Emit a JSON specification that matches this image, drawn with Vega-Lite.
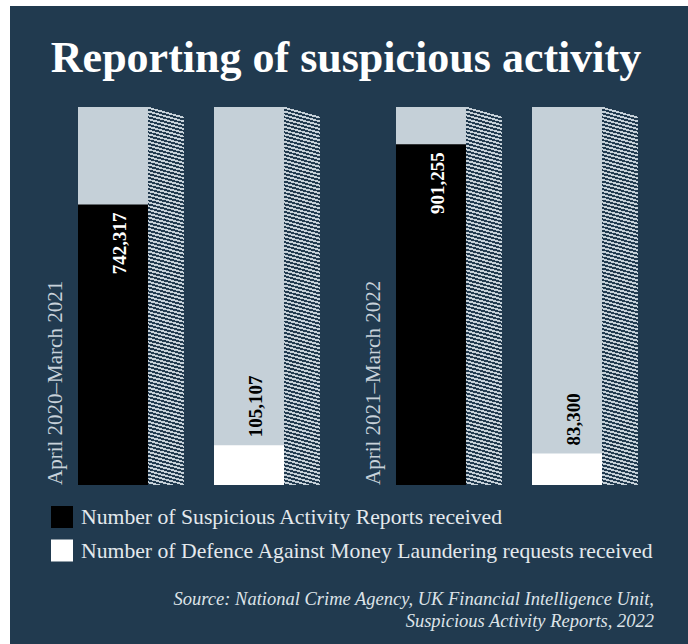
{
  "$schema": "https://vega.github.io/schema/vega-lite/v6.json",
  "width": 678,
  "height": 638,
  "autosize": {"type": "none"},
  "padding": {"left": 10, "top": 6, "right": 0, "bottom": 0},
  "background": "#ffffff",
  "title": {
    "text": "Reporting of suspicious activity",
    "font": "Liberation Serif",
    "fontSize": 44,
    "fontWeight": "bold",
    "color": "#ffffff",
    "anchor": "middle",
    "frame": "group",
    "baseline": "alphabetic",
    "offset": -110,
    "dx": -3
  },
  "config": {
    "view": {"fill": "#213a4f", "stroke": null},
    "font": "Liberation Serif"
  },
  "data": {
    "values": [
      {"period": "April 2020–March 2021", "measure": "Number of Suspicious Activity Reports received", "value": 742317},
      {"period": "April 2020–March 2021", "measure": "Number of Defence Against Money Laundering requests received", "value": 105107},
      {"period": "April 2021–March 2022", "measure": "Number of Suspicious Activity Reports received", "value": 901255},
      {"period": "April 2021–March 2022", "measure": "Number of Defence Against Money Laundering requests received", "value": 83300}
    ]
  },
  "resolve": {"scale": {"xOffset": "independent"}},
  "layer": [
    {
      "layer": [
        {
          "mark": {"type": "bar", "color": "#c5d0d8"},
          "encoding": {
            "x": {
              "field": "period",
              "type": "nominal",
              "scale": {"range": [68, 592], "paddingInner": 0.3522, "paddingOuter": 0},
              "axis": null
            },
            "xOffset": {
              "field": "measure",
              "type": "nominal",
              "scale": {
                "domain": ["Number of Suspicious Activity Reports received", "Number of Defence Against Money Laundering requests received"],
                "paddingInner": 0.4853,
                "paddingOuter": 0
              }
            },
            "y": {
              "datum": 1000000,
              "type": "quantitative",
              "scale": {"domain": [0, 1000000], "range": [479, 101], "nice": false, "zero": true},
              "axis": null
            },
            "y2": {"datum": 0}
          }
        },
        {
          "mark": {"type": "bar"},
          "encoding": {
            "x": {"field": "period", "type": "nominal", "axis": null},
            "xOffset": {"field": "measure", "type": "nominal"},
            "y": {"field": "value", "type": "quantitative", "axis": null},
            "color": {
              "field": "measure",
              "type": "nominal",
              "scale": {
                "domain": ["Number of Suspicious Activity Reports received", "Number of Defence Against Money Laundering requests received"],
                "range": ["#000000", "#ffffff"]
              },
              "legend": {
                "orient": "none",
                "legendX": 41,
                "legendY": 500,
                "direction": "vertical",
                "padding": 0,
                "symbolType": "square",
                "symbolSize": 484,
                "symbolStrokeWidth": 0,
                "symbolOpacity": 1,
                "labelFont": "Liberation Serif",
                "labelFontSize": 21.7,
                "labelColor": "#e4e9ed",
                "labelLimit": 700,
                "labelOffset": 8,
                "rowPadding": 10.5,
                "title": ["Source: National Crime Agency, UK Financial Intelligence Unit,", "Suspicious Activity Reports, 2022"],
                "titleOrient": "bottom",
                "titleAnchor": "end",
                "titleAlign": "right",
                "titleBaseline": "top",
                "titlePadding": 28,
                "titleFont": "Liberation Serif",
                "titleFontStyle": "italic",
                "titleFontWeight": "normal",
                "titleFontSize": 18.5,
                "titleLineHeight": 22,
                "titleLimit": 700,
                "titleColor": "#dde3e8"
              }
            }
          }
        },
        {
          "transform": [{"filter": {"field": "measure", "equal": "Number of Suspicious Activity Reports received"}}],
          "mark": {"type": "text", "angle": 270, "align": "right", "baseline": "middle", "dx": -8, "dy": 7, "font": "Liberation Serif", "fontWeight": "bold", "fontSize": 19, "color": "#ffffff"},
          "encoding": {
            "x": {"field": "period", "type": "nominal", "axis": null},
            "xOffset": {"field": "measure", "type": "nominal"},
            "y": {"field": "value", "type": "quantitative", "axis": null},
            "text": {"field": "value", "type": "quantitative", "format": ","}
          }
        },
        {
          "transform": [{"filter": {"field": "measure", "equal": "Number of Defence Against Money Laundering requests received"}}],
          "mark": {"type": "text", "angle": 270, "align": "left", "baseline": "middle", "dx": 8, "dy": 7, "font": "Liberation Serif", "fontWeight": "bold", "fontSize": 19, "color": "#000000"},
          "encoding": {
            "x": {"field": "period", "type": "nominal", "axis": null},
            "xOffset": {"field": "measure", "type": "nominal"},
            "y": {"field": "value", "type": "quantitative", "axis": null},
            "text": {"field": "value", "type": "quantitative", "format": ","}
          }
        },
        {
          "transform": [{"filter": {"field": "measure", "equal": "Number of Suspicious Activity Reports received"}}],
          "mark": {"type": "text", "angle": 270, "align": "left", "baseline": "alphabetic", "dy": -16, "font": "Liberation Serif", "fontSize": 21, "color": "#c8d2da"},
          "encoding": {
            "x": {"field": "period", "type": "nominal", "bandPosition": 0, "axis": null},
            "y": {"datum": 0, "type": "quantitative", "axis": null},
            "text": {"field": "period", "type": "nominal"}
          }
        }
      ]
    },
    {
      "mark": {
        "type": "bar",
        "fill": {
          "gradient": "linear",
          "x1": 0.02646, "y1": 0, "x2": 0, "y2": 1,
          "stops": [
            {"offset":0,"color":"#213a4f"},
            {"offset":0,"color":"#c5d0d8"},{"offset":0.005,"color":"#c5d0d8"},{"offset":0.005,"color":"#213a4f"},{"offset":0.01,"color":"#213a4f"},
            {"offset":0.01,"color":"#c5d0d8"},{"offset":0.015,"color":"#c5d0d8"},{"offset":0.015,"color":"#213a4f"},{"offset":0.02,"color":"#213a4f"},
            {"offset":0.02,"color":"#c5d0d8"},{"offset":0.025,"color":"#c5d0d8"},{"offset":0.025,"color":"#213a4f"},{"offset":0.03,"color":"#213a4f"},
            {"offset":0.03,"color":"#c5d0d8"},{"offset":0.035,"color":"#c5d0d8"},{"offset":0.035,"color":"#213a4f"},{"offset":0.04,"color":"#213a4f"},
            {"offset":0.04,"color":"#c5d0d8"},{"offset":0.045,"color":"#c5d0d8"},{"offset":0.045,"color":"#213a4f"},{"offset":0.05,"color":"#213a4f"},
            {"offset":0.05,"color":"#c5d0d8"},{"offset":0.055,"color":"#c5d0d8"},{"offset":0.055,"color":"#213a4f"},{"offset":0.06,"color":"#213a4f"},
            {"offset":0.06,"color":"#c5d0d8"},{"offset":0.065,"color":"#c5d0d8"},{"offset":0.065,"color":"#213a4f"},{"offset":0.07,"color":"#213a4f"},
            {"offset":0.07,"color":"#c5d0d8"},{"offset":0.075,"color":"#c5d0d8"},{"offset":0.075,"color":"#213a4f"},{"offset":0.08,"color":"#213a4f"},
            {"offset":0.08,"color":"#c5d0d8"},{"offset":0.085,"color":"#c5d0d8"},{"offset":0.085,"color":"#213a4f"},{"offset":0.09,"color":"#213a4f"},
            {"offset":0.09,"color":"#c5d0d8"},{"offset":0.095,"color":"#c5d0d8"},{"offset":0.095,"color":"#213a4f"},{"offset":0.10,"color":"#213a4f"},
            {"offset":0.10,"color":"#c5d0d8"},{"offset":0.105,"color":"#c5d0d8"},{"offset":0.105,"color":"#213a4f"},{"offset":0.11,"color":"#213a4f"},
            {"offset":0.11,"color":"#c5d0d8"},{"offset":0.115,"color":"#c5d0d8"},{"offset":0.115,"color":"#213a4f"},{"offset":0.12,"color":"#213a4f"},
            {"offset":0.12,"color":"#c5d0d8"},{"offset":0.125,"color":"#c5d0d8"},{"offset":0.125,"color":"#213a4f"},{"offset":0.13,"color":"#213a4f"},
            {"offset":0.13,"color":"#c5d0d8"},{"offset":0.135,"color":"#c5d0d8"},{"offset":0.135,"color":"#213a4f"},{"offset":0.14,"color":"#213a4f"},
            {"offset":0.14,"color":"#c5d0d8"},{"offset":0.145,"color":"#c5d0d8"},{"offset":0.145,"color":"#213a4f"},{"offset":0.15,"color":"#213a4f"},
            {"offset":0.15,"color":"#c5d0d8"},{"offset":0.155,"color":"#c5d0d8"},{"offset":0.155,"color":"#213a4f"},{"offset":0.16,"color":"#213a4f"},
            {"offset":0.16,"color":"#c5d0d8"},{"offset":0.165,"color":"#c5d0d8"},{"offset":0.165,"color":"#213a4f"},{"offset":0.17,"color":"#213a4f"},
            {"offset":0.17,"color":"#c5d0d8"},{"offset":0.175,"color":"#c5d0d8"},{"offset":0.175,"color":"#213a4f"},{"offset":0.18,"color":"#213a4f"},
            {"offset":0.18,"color":"#c5d0d8"},{"offset":0.185,"color":"#c5d0d8"},{"offset":0.185,"color":"#213a4f"},{"offset":0.19,"color":"#213a4f"},
            {"offset":0.19,"color":"#c5d0d8"},{"offset":0.195,"color":"#c5d0d8"},{"offset":0.195,"color":"#213a4f"},{"offset":0.20,"color":"#213a4f"},
            {"offset":0.20,"color":"#c5d0d8"},{"offset":0.205,"color":"#c5d0d8"},{"offset":0.205,"color":"#213a4f"},{"offset":0.21,"color":"#213a4f"},
            {"offset":0.21,"color":"#c5d0d8"},{"offset":0.215,"color":"#c5d0d8"},{"offset":0.215,"color":"#213a4f"},{"offset":0.22,"color":"#213a4f"},
            {"offset":0.22,"color":"#c5d0d8"},{"offset":0.225,"color":"#c5d0d8"},{"offset":0.225,"color":"#213a4f"},{"offset":0.23,"color":"#213a4f"},
            {"offset":0.23,"color":"#c5d0d8"},{"offset":0.235,"color":"#c5d0d8"},{"offset":0.235,"color":"#213a4f"},{"offset":0.24,"color":"#213a4f"},
            {"offset":0.24,"color":"#c5d0d8"},{"offset":0.245,"color":"#c5d0d8"},{"offset":0.245,"color":"#213a4f"},{"offset":0.25,"color":"#213a4f"},
            {"offset":0.25,"color":"#c5d0d8"},{"offset":0.255,"color":"#c5d0d8"},{"offset":0.255,"color":"#213a4f"},{"offset":0.26,"color":"#213a4f"},
            {"offset":0.26,"color":"#c5d0d8"},{"offset":0.265,"color":"#c5d0d8"},{"offset":0.265,"color":"#213a4f"},{"offset":0.27,"color":"#213a4f"},
            {"offset":0.27,"color":"#c5d0d8"},{"offset":0.275,"color":"#c5d0d8"},{"offset":0.275,"color":"#213a4f"},{"offset":0.28,"color":"#213a4f"},
            {"offset":0.28,"color":"#c5d0d8"},{"offset":0.285,"color":"#c5d0d8"},{"offset":0.285,"color":"#213a4f"},{"offset":0.29,"color":"#213a4f"},
            {"offset":0.29,"color":"#c5d0d8"},{"offset":0.295,"color":"#c5d0d8"},{"offset":0.295,"color":"#213a4f"},{"offset":0.30,"color":"#213a4f"},
            {"offset":0.30,"color":"#c5d0d8"},{"offset":0.305,"color":"#c5d0d8"},{"offset":0.305,"color":"#213a4f"},{"offset":0.31,"color":"#213a4f"},
            {"offset":0.31,"color":"#c5d0d8"},{"offset":0.315,"color":"#c5d0d8"},{"offset":0.315,"color":"#213a4f"},{"offset":0.32,"color":"#213a4f"},
            {"offset":0.32,"color":"#c5d0d8"},{"offset":0.325,"color":"#c5d0d8"},{"offset":0.325,"color":"#213a4f"},{"offset":0.33,"color":"#213a4f"},
            {"offset":0.33,"color":"#c5d0d8"},{"offset":0.335,"color":"#c5d0d8"},{"offset":0.335,"color":"#213a4f"},{"offset":0.34,"color":"#213a4f"},
            {"offset":0.34,"color":"#c5d0d8"},{"offset":0.345,"color":"#c5d0d8"},{"offset":0.345,"color":"#213a4f"},{"offset":0.35,"color":"#213a4f"},
            {"offset":0.35,"color":"#c5d0d8"},{"offset":0.355,"color":"#c5d0d8"},{"offset":0.355,"color":"#213a4f"},{"offset":0.36,"color":"#213a4f"},
            {"offset":0.36,"color":"#c5d0d8"},{"offset":0.365,"color":"#c5d0d8"},{"offset":0.365,"color":"#213a4f"},{"offset":0.37,"color":"#213a4f"},
            {"offset":0.37,"color":"#c5d0d8"},{"offset":0.375,"color":"#c5d0d8"},{"offset":0.375,"color":"#213a4f"},{"offset":0.38,"color":"#213a4f"},
            {"offset":0.38,"color":"#c5d0d8"},{"offset":0.385,"color":"#c5d0d8"},{"offset":0.385,"color":"#213a4f"},{"offset":0.39,"color":"#213a4f"},
            {"offset":0.39,"color":"#c5d0d8"},{"offset":0.395,"color":"#c5d0d8"},{"offset":0.395,"color":"#213a4f"},{"offset":0.40,"color":"#213a4f"},
            {"offset":0.40,"color":"#c5d0d8"},{"offset":0.405,"color":"#c5d0d8"},{"offset":0.405,"color":"#213a4f"},{"offset":0.41,"color":"#213a4f"},
            {"offset":0.41,"color":"#c5d0d8"},{"offset":0.415,"color":"#c5d0d8"},{"offset":0.415,"color":"#213a4f"},{"offset":0.42,"color":"#213a4f"},
            {"offset":0.42,"color":"#c5d0d8"},{"offset":0.425,"color":"#c5d0d8"},{"offset":0.425,"color":"#213a4f"},{"offset":0.43,"color":"#213a4f"},
            {"offset":0.43,"color":"#c5d0d8"},{"offset":0.435,"color":"#c5d0d8"},{"offset":0.435,"color":"#213a4f"},{"offset":0.44,"color":"#213a4f"},
            {"offset":0.44,"color":"#c5d0d8"},{"offset":0.445,"color":"#c5d0d8"},{"offset":0.445,"color":"#213a4f"},{"offset":0.45,"color":"#213a4f"},
            {"offset":0.45,"color":"#c5d0d8"},{"offset":0.455,"color":"#c5d0d8"},{"offset":0.455,"color":"#213a4f"},{"offset":0.46,"color":"#213a4f"},
            {"offset":0.46,"color":"#c5d0d8"},{"offset":0.465,"color":"#c5d0d8"},{"offset":0.465,"color":"#213a4f"},{"offset":0.47,"color":"#213a4f"},
            {"offset":0.47,"color":"#c5d0d8"},{"offset":0.475,"color":"#c5d0d8"},{"offset":0.475,"color":"#213a4f"},{"offset":0.48,"color":"#213a4f"},
            {"offset":0.48,"color":"#c5d0d8"},{"offset":0.485,"color":"#c5d0d8"},{"offset":0.485,"color":"#213a4f"},{"offset":0.49,"color":"#213a4f"},
            {"offset":0.49,"color":"#c5d0d8"},{"offset":0.495,"color":"#c5d0d8"},{"offset":0.495,"color":"#213a4f"},{"offset":0.50,"color":"#213a4f"},
            {"offset":0.50,"color":"#c5d0d8"},{"offset":0.505,"color":"#c5d0d8"},{"offset":0.505,"color":"#213a4f"},{"offset":0.51,"color":"#213a4f"},
            {"offset":0.51,"color":"#c5d0d8"},{"offset":0.515,"color":"#c5d0d8"},{"offset":0.515,"color":"#213a4f"},{"offset":0.52,"color":"#213a4f"},
            {"offset":0.52,"color":"#c5d0d8"},{"offset":0.525,"color":"#c5d0d8"},{"offset":0.525,"color":"#213a4f"},{"offset":0.53,"color":"#213a4f"},
            {"offset":0.53,"color":"#c5d0d8"},{"offset":0.535,"color":"#c5d0d8"},{"offset":0.535,"color":"#213a4f"},{"offset":0.54,"color":"#213a4f"},
            {"offset":0.54,"color":"#c5d0d8"},{"offset":0.545,"color":"#c5d0d8"},{"offset":0.545,"color":"#213a4f"},{"offset":0.55,"color":"#213a4f"},
            {"offset":0.55,"color":"#c5d0d8"},{"offset":0.555,"color":"#c5d0d8"},{"offset":0.555,"color":"#213a4f"},{"offset":0.56,"color":"#213a4f"},
            {"offset":0.56,"color":"#c5d0d8"},{"offset":0.565,"color":"#c5d0d8"},{"offset":0.565,"color":"#213a4f"},{"offset":0.57,"color":"#213a4f"},
            {"offset":0.57,"color":"#c5d0d8"},{"offset":0.575,"color":"#c5d0d8"},{"offset":0.575,"color":"#213a4f"},{"offset":0.58,"color":"#213a4f"},
            {"offset":0.58,"color":"#c5d0d8"},{"offset":0.585,"color":"#c5d0d8"},{"offset":0.585,"color":"#213a4f"},{"offset":0.59,"color":"#213a4f"},
            {"offset":0.59,"color":"#c5d0d8"},{"offset":0.595,"color":"#c5d0d8"},{"offset":0.595,"color":"#213a4f"},{"offset":0.60,"color":"#213a4f"},
            {"offset":0.60,"color":"#c5d0d8"},{"offset":0.605,"color":"#c5d0d8"},{"offset":0.605,"color":"#213a4f"},{"offset":0.61,"color":"#213a4f"},
            {"offset":0.61,"color":"#c5d0d8"},{"offset":0.615,"color":"#c5d0d8"},{"offset":0.615,"color":"#213a4f"},{"offset":0.62,"color":"#213a4f"},
            {"offset":0.62,"color":"#c5d0d8"},{"offset":0.625,"color":"#c5d0d8"},{"offset":0.625,"color":"#213a4f"},{"offset":0.63,"color":"#213a4f"},
            {"offset":0.63,"color":"#c5d0d8"},{"offset":0.635,"color":"#c5d0d8"},{"offset":0.635,"color":"#213a4f"},{"offset":0.64,"color":"#213a4f"},
            {"offset":0.64,"color":"#c5d0d8"},{"offset":0.645,"color":"#c5d0d8"},{"offset":0.645,"color":"#213a4f"},{"offset":0.65,"color":"#213a4f"},
            {"offset":0.65,"color":"#c5d0d8"},{"offset":0.655,"color":"#c5d0d8"},{"offset":0.655,"color":"#213a4f"},{"offset":0.66,"color":"#213a4f"},
            {"offset":0.66,"color":"#c5d0d8"},{"offset":0.665,"color":"#c5d0d8"},{"offset":0.665,"color":"#213a4f"},{"offset":0.67,"color":"#213a4f"},
            {"offset":0.67,"color":"#c5d0d8"},{"offset":0.675,"color":"#c5d0d8"},{"offset":0.675,"color":"#213a4f"},{"offset":0.68,"color":"#213a4f"},
            {"offset":0.68,"color":"#c5d0d8"},{"offset":0.685,"color":"#c5d0d8"},{"offset":0.685,"color":"#213a4f"},{"offset":0.69,"color":"#213a4f"},
            {"offset":0.69,"color":"#c5d0d8"},{"offset":0.695,"color":"#c5d0d8"},{"offset":0.695,"color":"#213a4f"},{"offset":0.70,"color":"#213a4f"},
            {"offset":0.70,"color":"#c5d0d8"},{"offset":0.705,"color":"#c5d0d8"},{"offset":0.705,"color":"#213a4f"},{"offset":0.71,"color":"#213a4f"},
            {"offset":0.71,"color":"#c5d0d8"},{"offset":0.715,"color":"#c5d0d8"},{"offset":0.715,"color":"#213a4f"},{"offset":0.72,"color":"#213a4f"},
            {"offset":0.72,"color":"#c5d0d8"},{"offset":0.725,"color":"#c5d0d8"},{"offset":0.725,"color":"#213a4f"},{"offset":0.73,"color":"#213a4f"},
            {"offset":0.73,"color":"#c5d0d8"},{"offset":0.735,"color":"#c5d0d8"},{"offset":0.735,"color":"#213a4f"},{"offset":0.74,"color":"#213a4f"},
            {"offset":0.74,"color":"#c5d0d8"},{"offset":0.745,"color":"#c5d0d8"},{"offset":0.745,"color":"#213a4f"},{"offset":0.75,"color":"#213a4f"},
            {"offset":0.75,"color":"#c5d0d8"},{"offset":0.755,"color":"#c5d0d8"},{"offset":0.755,"color":"#213a4f"},{"offset":0.76,"color":"#213a4f"},
            {"offset":0.76,"color":"#c5d0d8"},{"offset":0.765,"color":"#c5d0d8"},{"offset":0.765,"color":"#213a4f"},{"offset":0.77,"color":"#213a4f"},
            {"offset":0.77,"color":"#c5d0d8"},{"offset":0.775,"color":"#c5d0d8"},{"offset":0.775,"color":"#213a4f"},{"offset":0.78,"color":"#213a4f"},
            {"offset":0.78,"color":"#c5d0d8"},{"offset":0.785,"color":"#c5d0d8"},{"offset":0.785,"color":"#213a4f"},{"offset":0.79,"color":"#213a4f"},
            {"offset":0.79,"color":"#c5d0d8"},{"offset":0.795,"color":"#c5d0d8"},{"offset":0.795,"color":"#213a4f"},{"offset":0.80,"color":"#213a4f"},
            {"offset":0.80,"color":"#c5d0d8"},{"offset":0.805,"color":"#c5d0d8"},{"offset":0.805,"color":"#213a4f"},{"offset":0.81,"color":"#213a4f"},
            {"offset":0.81,"color":"#c5d0d8"},{"offset":0.815,"color":"#c5d0d8"},{"offset":0.815,"color":"#213a4f"},{"offset":0.82,"color":"#213a4f"},
            {"offset":0.82,"color":"#c5d0d8"},{"offset":0.825,"color":"#c5d0d8"},{"offset":0.825,"color":"#213a4f"},{"offset":0.83,"color":"#213a4f"},
            {"offset":0.83,"color":"#c5d0d8"},{"offset":0.835,"color":"#c5d0d8"},{"offset":0.835,"color":"#213a4f"},{"offset":0.84,"color":"#213a4f"},
            {"offset":0.84,"color":"#c5d0d8"},{"offset":0.845,"color":"#c5d0d8"},{"offset":0.845,"color":"#213a4f"},{"offset":0.85,"color":"#213a4f"},
            {"offset":0.85,"color":"#c5d0d8"},{"offset":0.855,"color":"#c5d0d8"},{"offset":0.855,"color":"#213a4f"},{"offset":0.86,"color":"#213a4f"},
            {"offset":0.86,"color":"#c5d0d8"},{"offset":0.865,"color":"#c5d0d8"},{"offset":0.865,"color":"#213a4f"},{"offset":0.87,"color":"#213a4f"},
            {"offset":0.87,"color":"#c5d0d8"},{"offset":0.875,"color":"#c5d0d8"},{"offset":0.875,"color":"#213a4f"},{"offset":0.88,"color":"#213a4f"},
            {"offset":0.88,"color":"#c5d0d8"},{"offset":0.885,"color":"#c5d0d8"},{"offset":0.885,"color":"#213a4f"},{"offset":0.89,"color":"#213a4f"},
            {"offset":0.89,"color":"#c5d0d8"},{"offset":0.895,"color":"#c5d0d8"},{"offset":0.895,"color":"#213a4f"},{"offset":0.90,"color":"#213a4f"},
            {"offset":0.90,"color":"#c5d0d8"},{"offset":0.905,"color":"#c5d0d8"},{"offset":0.905,"color":"#213a4f"},{"offset":0.91,"color":"#213a4f"},
            {"offset":0.91,"color":"#c5d0d8"},{"offset":0.915,"color":"#c5d0d8"},{"offset":0.915,"color":"#213a4f"},{"offset":0.92,"color":"#213a4f"},
            {"offset":0.92,"color":"#c5d0d8"},{"offset":0.925,"color":"#c5d0d8"},{"offset":0.925,"color":"#213a4f"},{"offset":0.93,"color":"#213a4f"},
            {"offset":0.93,"color":"#c5d0d8"},{"offset":0.935,"color":"#c5d0d8"},{"offset":0.935,"color":"#213a4f"},{"offset":0.94,"color":"#213a4f"},
            {"offset":0.94,"color":"#c5d0d8"},{"offset":0.945,"color":"#c5d0d8"},{"offset":0.945,"color":"#213a4f"},{"offset":0.95,"color":"#213a4f"},
            {"offset":0.95,"color":"#c5d0d8"},{"offset":0.955,"color":"#c5d0d8"},{"offset":0.955,"color":"#213a4f"},{"offset":0.96,"color":"#213a4f"},
            {"offset":0.96,"color":"#c5d0d8"},{"offset":0.965,"color":"#c5d0d8"},{"offset":0.965,"color":"#213a4f"},{"offset":0.97,"color":"#213a4f"},
            {"offset":0.97,"color":"#c5d0d8"},{"offset":0.975,"color":"#c5d0d8"},{"offset":0.975,"color":"#213a4f"},{"offset":0.98,"color":"#213a4f"},
            {"offset":0.98,"color":"#c5d0d8"},{"offset":0.985,"color":"#c5d0d8"},{"offset":0.985,"color":"#213a4f"},{"offset":0.99,"color":"#213a4f"},
            {"offset":0.99,"color":"#c5d0d8"},{"offset":0.995,"color":"#c5d0d8"},{"offset":0.995,"color":"#213a4f"},{"offset":1,"color":"#213a4f"}
          ]
        }
      },
      "encoding": {
        "x": {"field": "period", "type": "nominal", "axis": null},
        "xOffset": {
          "field": "measure",
          "type": "nominal",
          "scale": {
            "domain": ["Number of Suspicious Activity Reports received", "Number of Defence Against Money Laundering requests received"],
            "range": [70, 242],
            "paddingInner": 0.7353,
            "paddingOuter": 0
          }
        },
        "y": {"datum": 1000000, "type": "quantitative", "axis": null},
        "y2": {"datum": 0}
      }
    }
  ]
}
